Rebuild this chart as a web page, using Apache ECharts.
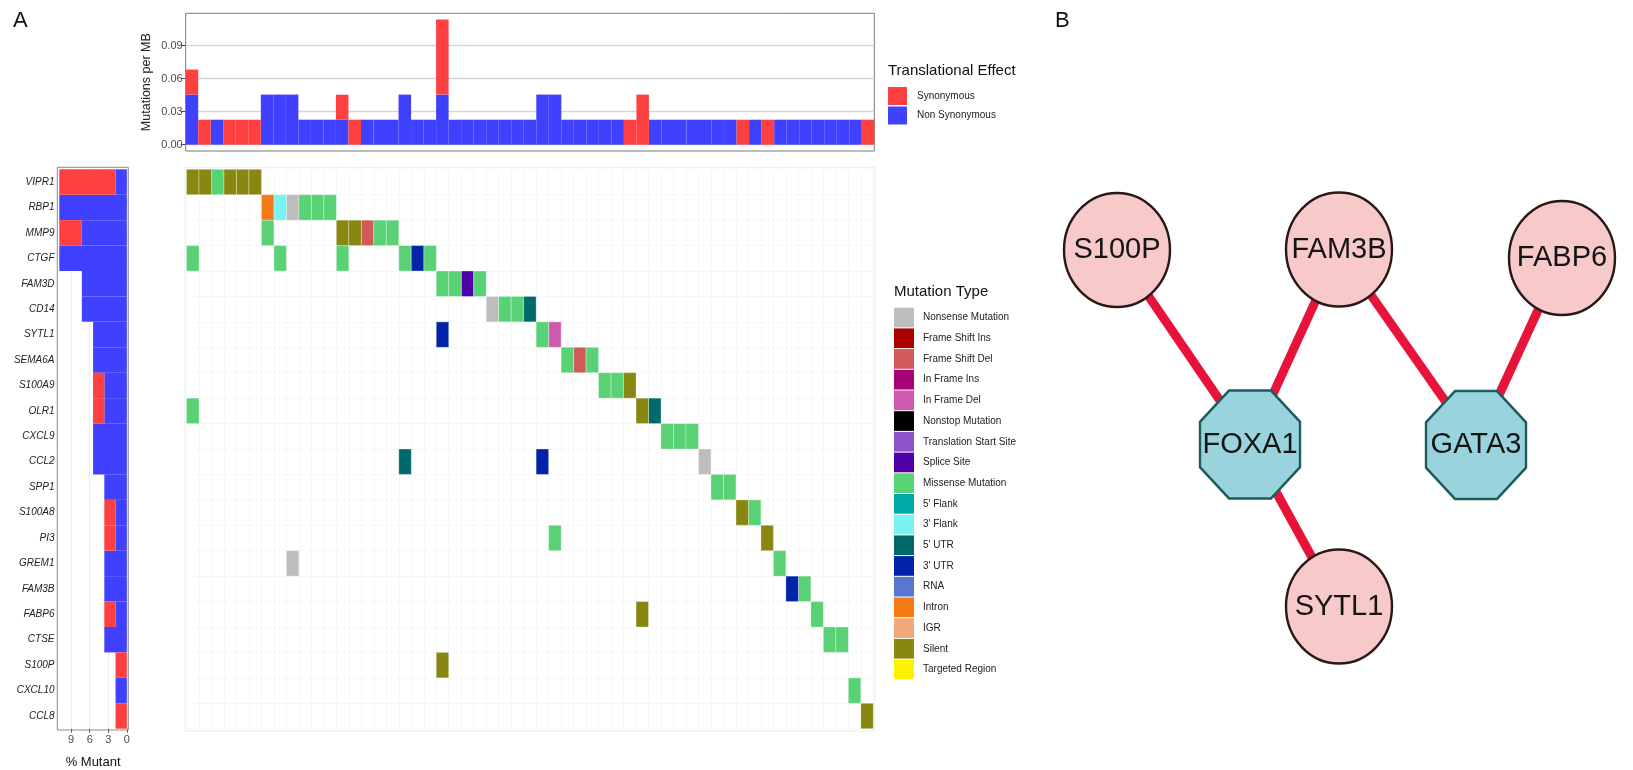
<!DOCTYPE html>
<html><head><meta charset="utf-8">
<script src="https://cdn.jsdelivr.net/npm/echarts@6/dist/echarts.min.js"></script>
<style>html,body{margin:0;padding:0;background:#fff}#c{width:1633px;height:770px}</style>
</head><body><div id="c"></div>
<script>
// ---------- DATA ----------
const samples = ['S1','S2','S3','S4','S5','S6','S7','S8','S9','S10','S11','S12','S13','S14','S15','S16','S17','S18','S19','S20','S21','S22','S23','S24','S25','S26','S27','S28','S29','S30','S31','S32','S33','S34','S35','S36','S37','S38','S39','S40','S41','S42','S43','S44','S45','S46','S47','S48','S49','S50','S51','S52','S53','S54','S55'];
const genes = ['VIPR1','RBP1','MMP9','CTGF','FAM3D','CD14','SYTL1','SEMA6A','S100A9','OLR1','CXCL9','CCL2','SPP1','S100A8','PI3','GREM1','FAM3B','FABP6','CTSE','S100P','CXCL10','CCL8'];
// mutations per MB, per sample
const topNonSyn = [.0455,0,.0227,0,0,0,.0455,.0455,.0455,.0227, .0227,.0227,.0227,0,.0227,.0227,.0227,.0455,.0227,.0227, .0455,.0227,.0227,.0227,.0227,.0227,.0227,.0227,.0455,.0455, .0227,.0227,.0227,.0227,.0227,0,0,.0227,.0227,.0227, .0227,.0227,.0227,.0227,0,.0227,0,.0227,.0227,.0227, .0227,.0227,.0227,.0227,0];
const topSyn = [.0227,.0227,0,.0227,.0227,.0227,0,0,0,0, 0,0,.0227,.0227,0,0,0,0,0,0, .0682,0,0,0,0,0,0,0,0,0, 0,0,0,0,0,.0227,.0455,0,0,0, 0,0,0,0,.0227,0,.0227,0,0,0, 0,0,0,0,.0227];
// % mutant per gene
const leftNonSyn = [1.82,10.91,7.27,10.91,7.27,7.27,5.45,5.45,3.64,3.64,5.45,5.45,3.64,1.82,1.82,3.64,3.64,1.82,3.64,0,1.82,0];
const leftSyn = [9.09,0,3.64,0,0,0,0,0,1.82,1.82,0,0,0,1.82,1.82,0,0,1.82,0,1.82,0,1.82];
const topTicks = [0, 0.03, 0.06, 0.09];
const leftTicks = [0, 3, 6, 9];
const mutationTypes = ['Nonsense Mutation','Frame Shift Ins','Frame Shift Del','In Frame Ins','In Frame Del','Nonstop Mutation','Translation Start Site','Splice Site','Missense Mutation',"5' Flank","3' Flank","5' UTR","3' UTR",'RNA','Intron','IGR','Silent','Targeted Region'];
const mutationColors = ['#bdbdbd','#a80100','#cf5a59','#a80079','#ce59b0','#000000','#8b52c9','#4f00a8','#59d175','#00a8a8','#79f2f2','#006a6a','#0023a8','#5877d3','#f37a14','#f2a87a','#878712','#fff200'];
// [sample index, gene index, type]
const mutations = [
 [0,0,'Silent'],[1,0,'Silent'],[2,0,'Missense Mutation'],[3,0,'Silent'],[4,0,'Silent'],[5,0,'Silent'],
 [6,1,'Intron'],[7,1,"3' Flank"],[8,1,'Nonsense Mutation'],[9,1,'Missense Mutation'],[10,1,'Missense Mutation'],[11,1,'Missense Mutation'],
 [6,2,'Missense Mutation'],[12,2,'Silent'],[13,2,'Silent'],[14,2,'Frame Shift Del'],[15,2,'Missense Mutation'],[16,2,'Missense Mutation'],
 [0,3,'Missense Mutation'],[7,3,'Missense Mutation'],[12,3,'Missense Mutation'],[17,3,'Missense Mutation'],[18,3,"3' UTR"],[19,3,'Missense Mutation'],
 [20,4,'Missense Mutation'],[21,4,'Missense Mutation'],[22,4,'Splice Site'],[23,4,'Missense Mutation'],
 [24,5,'Nonsense Mutation'],[25,5,'Missense Mutation'],[26,5,'Missense Mutation'],[27,5,"5' UTR"],
 [20,6,"3' UTR"],[28,6,'Missense Mutation'],[29,6,'In Frame Del'],
 [30,7,'Missense Mutation'],[31,7,'Frame Shift Del'],[32,7,'Missense Mutation'],
 [33,8,'Missense Mutation'],[34,8,'Missense Mutation'],[35,8,'Silent'],
 [0,9,'Missense Mutation'],[36,9,'Silent'],[37,9,"5' UTR"],
 [38,10,'Missense Mutation'],[39,10,'Missense Mutation'],[40,10,'Missense Mutation'],
 [17,11,"5' UTR"],[28,11,"3' UTR"],[41,11,'Nonsense Mutation'],
 [42,12,'Missense Mutation'],[43,12,'Missense Mutation'],
 [44,13,'Silent'],[45,13,'Missense Mutation'],
 [29,14,'Missense Mutation'],[46,14,'Silent'],
 [8,15,'Nonsense Mutation'],[47,15,'Missense Mutation'],
 [48,16,"3' UTR"],[49,16,'Missense Mutation'],
 [36,17,'Silent'],[50,17,'Missense Mutation'],
 [51,18,'Missense Mutation'],[52,18,'Missense Mutation'],
 [20,19,'Silent'],
 [53,20,'Missense Mutation'],
 [54,21,'Silent']
];
// network
const netNodes = ['S100P','FAM3B','FABP6','FOXA1','GATA3','SYTL1'];
const netKinds = ['gene','gene','gene','tf','tf','gene'];
const netLinks = [['S100P','FOXA1'],['FAM3B','FOXA1'],['FAM3B','GATA3'],['FABP6','GATA3'],['FOXA1','SYTL1']];
// layout positions of the network (px inside panel B box)
const netLayoutX = [0, 222, 445, 133, 359, 222];
const netLayoutY = [0.5, 0, 8.5, 195, 195.5, 357];

// ---------- CHART ----------
const FONT = "'Liberation Sans', Arial, Helvetica, sans-serif";
const RED = '#ff4040', BLUE = '#4040ff';
const chart = echarts.init(document.getElementById('c'), null, {renderer:'canvas'});

function cellRender(params, api){
  const p = api.coord([api.value(0), api.value(1)]);
  const s = api.size([1,1]);
  return {type:'rect', shape:{x:p[0]-s[0]/2, y:p[1]-s[1]/2, width:s[0], height:s[1]},
    style:{fill: api.visual('color'), stroke:'rgba(255,255,255,0.55)', lineWidth:0.6}};
}

const mutSeries = mutationTypes.map((t, i) => ({
  type:'custom', name:t, xAxisIndex:2, yAxisIndex:2, renderItem: cellRender,
  itemStyle:{color: mutationColors[i]},
  data: mutations.filter(m => m[2] === t).map(m => [m[0], m[1]]),
  silent:true, z:3
}));

const octagon = 'path://M29,0 L71,0 L100,29 L100,71 L71,100 L29,100 L0,71 L0,29 Z';
const graphNodes = netNodes.map((n, i) => netKinds[i] === 'gene' ? {
  name:n, x:netLayoutX[i], y:netLayoutY[i], symbol:'circle', symbolSize:[106,114],
  itemStyle:{color:'#f7c9c9', borderColor:'#2a1818', borderWidth:2.5}
} : {
  name:n, x:netLayoutX[i], y:netLayoutY[i], symbol:octagon, symbolSize:[100,108],
  itemStyle:{color:'#99d4de', borderColor:'#1c5c5c', borderWidth:2.5}
});

const option = {
  animation:false,
  textStyle:{fontFamily:FONT},
  grid:[
    {left:185.7, top:13.3, width:688.6, height:137.7, show:true, borderColor:'#7a7a7a', borderWidth:1, backgroundColor:'transparent', outerBoundsMode:'none', containLabel:false},
    {left:57.5, top:169.3, width:71.2, height:559.4, show:false, outerBoundsMode:'none', containLabel:false},
    {left:186.5, top:169.3, width:686.8, height:559.4, show:false, outerBoundsMode:'none', containLabel:false}
  ],
  xAxis:[
    {type:'category', gridIndex:0, data:samples, axisLine:{show:false}, axisTick:{show:false}, axisLabel:{show:false}, splitLine:{show:false}},
    {type:'value', gridIndex:1, inverse:true, min:-0.3, max:11.2,
      axisLine:{show:false},
      axisTick:{show:true, length:4, customValues:leftTicks, lineStyle:{color:'#555'}},
      axisLabel:{customValues:leftTicks, fontSize:11, color:'#4d4d4d', margin:6, fontFamily:FONT},
      splitLine:{show:true, lineStyle:{color:'#ececec', width:1}},
      name:'% Mutant', nameLocation:'middle', nameGap:27, nameTextStyle:{fontSize:13, color:'#111', fontFamily:FONT}},
    {type:'category', gridIndex:2, data:samples, axisLine:{show:false}, axisTick:{show:false}, axisLabel:{show:false},
      splitLine:{show:true, interval:0, lineStyle:{color:'#f7f7f7', width:1}}}
  ],
  yAxis:[
    {type:'value', gridIndex:0, min:-0.0057, max:0.1193,
      axisLine:{show:false},
      axisTick:{show:true, length:5, customValues:topTicks, lineStyle:{color:'#444'}},
      axisLabel:{customValues:topTicks, formatter:v => v.toFixed(2), fontSize:11, color:'#4d4d4d', margin:3, fontFamily:FONT},
      splitLine:{show:true, lineStyle:{color:'#d6d6d6', width:1.3}},
      name:'Mutations per MB', nameLocation:'middle', nameGap:33, nameRotate:90,
      nameTextStyle:{fontSize:12.5, color:'#222', fontFamily:FONT}},
    {type:'category', gridIndex:1, data:genes, inverse:true,
      axisLine:{show:false}, axisTick:{show:true, length:3, alignWithLabel:true, lineStyle:{color:'#555'}},
      axisLabel:{fontSize:10, fontStyle:'italic', color:'#222', margin:3, fontFamily:FONT, interval:0},
      splitLine:{show:false}},
    {type:'category', gridIndex:2, data:genes, inverse:true, axisLine:{show:false}, axisTick:{show:false}, axisLabel:{show:false},
      splitLine:{show:true, interval:0, lineStyle:{color:'#f7f7f7', width:1}}}
  ],
  legend:[
    {data:['Synonymous','Non Synonymous'], orient:'vertical', left:888, top:87, padding:0,
      itemWidth:19, itemHeight:18, itemGap:1.5, icon:'rect', selectedMode:false,
      textStyle:{fontSize:10, color:'#222', fontFamily:FONT, padding:[0,0,0,5]}},
    {data:mutationTypes, orient:'vertical', left:894, top:307.7, padding:0,
      itemWidth:20, itemHeight:19.7, itemGap:1, icon:'rect', selectedMode:false,
      textStyle:{fontSize:10, color:'#222', fontFamily:FONT, padding:[0,0,0,4]}}
  ],
  series:[
    {type:'bar', name:'Non Synonymous', xAxisIndex:0, yAxisIndex:0, stack:'top', data:topNonSyn, barCategoryGap:'0%', itemStyle:{color:BLUE}, silent:true},
    {type:'bar', name:'Synonymous', xAxisIndex:0, yAxisIndex:0, stack:'top', data:topSyn, barCategoryGap:'0%', itemStyle:{color:RED}, silent:true},
    {type:'bar', name:'Non Synonymous', xAxisIndex:1, yAxisIndex:1, stack:'left', data:leftNonSyn, barCategoryGap:'0%', itemStyle:{color:BLUE}, silent:true},
    {type:'bar', name:'Synonymous', xAxisIndex:1, yAxisIndex:1, stack:'left', data:leftSyn, barCategoryGap:'0%', itemStyle:{color:RED}, silent:true},
    ...mutSeries,
    {type:'graph', layout:'none', left:1117, top:249.5, width:445, height:357, roam:false, silent:true,
      data:graphNodes,
      links:netLinks.map(l => ({source:l[0], target:l[1]})),
      lineStyle:{color:'#e8133b', width:9, opacity:1, curveness:0},
      label:{show:true, position:'inside', fontSize:29, color:'#151515', fontFamily:FONT},
      z:5}
  ],
  graphic:[
    {type:'rect', silent:true, z:-1, shape:{x:185, y:167.3, width:690, height:563.7}, style:{fill:'none', stroke:'#ebebeb', lineWidth:1}},
    {type:'rect', silent:true, z:10, shape:{x:57.3, y:167.3, width:71, height:562.7}, style:{fill:'none', stroke:'#8a8a8a', lineWidth:1}},
    {type:'text', silent:true, x:888, y:71, style:{text:'Translational Effect', fontSize:15, fill:'#111', fontFamily:FONT, textVerticalAlign:'middle'}},
    {type:'text', silent:true, x:894, y:292, style:{text:'Mutation Type', fontSize:15, fill:'#111', fontFamily:FONT, textVerticalAlign:'middle'}},
    {type:'text', silent:true, x:13, y:21, style:{text:'A', fontSize:22, fill:'#111', fontFamily:FONT, textVerticalAlign:'middle'}},
    {type:'text', silent:true, x:1055, y:21, style:{text:'B', fontSize:22, fill:'#111', fontFamily:FONT, textVerticalAlign:'middle'}}
  ]
};
chart.setOption(option);
</script></body></html>
